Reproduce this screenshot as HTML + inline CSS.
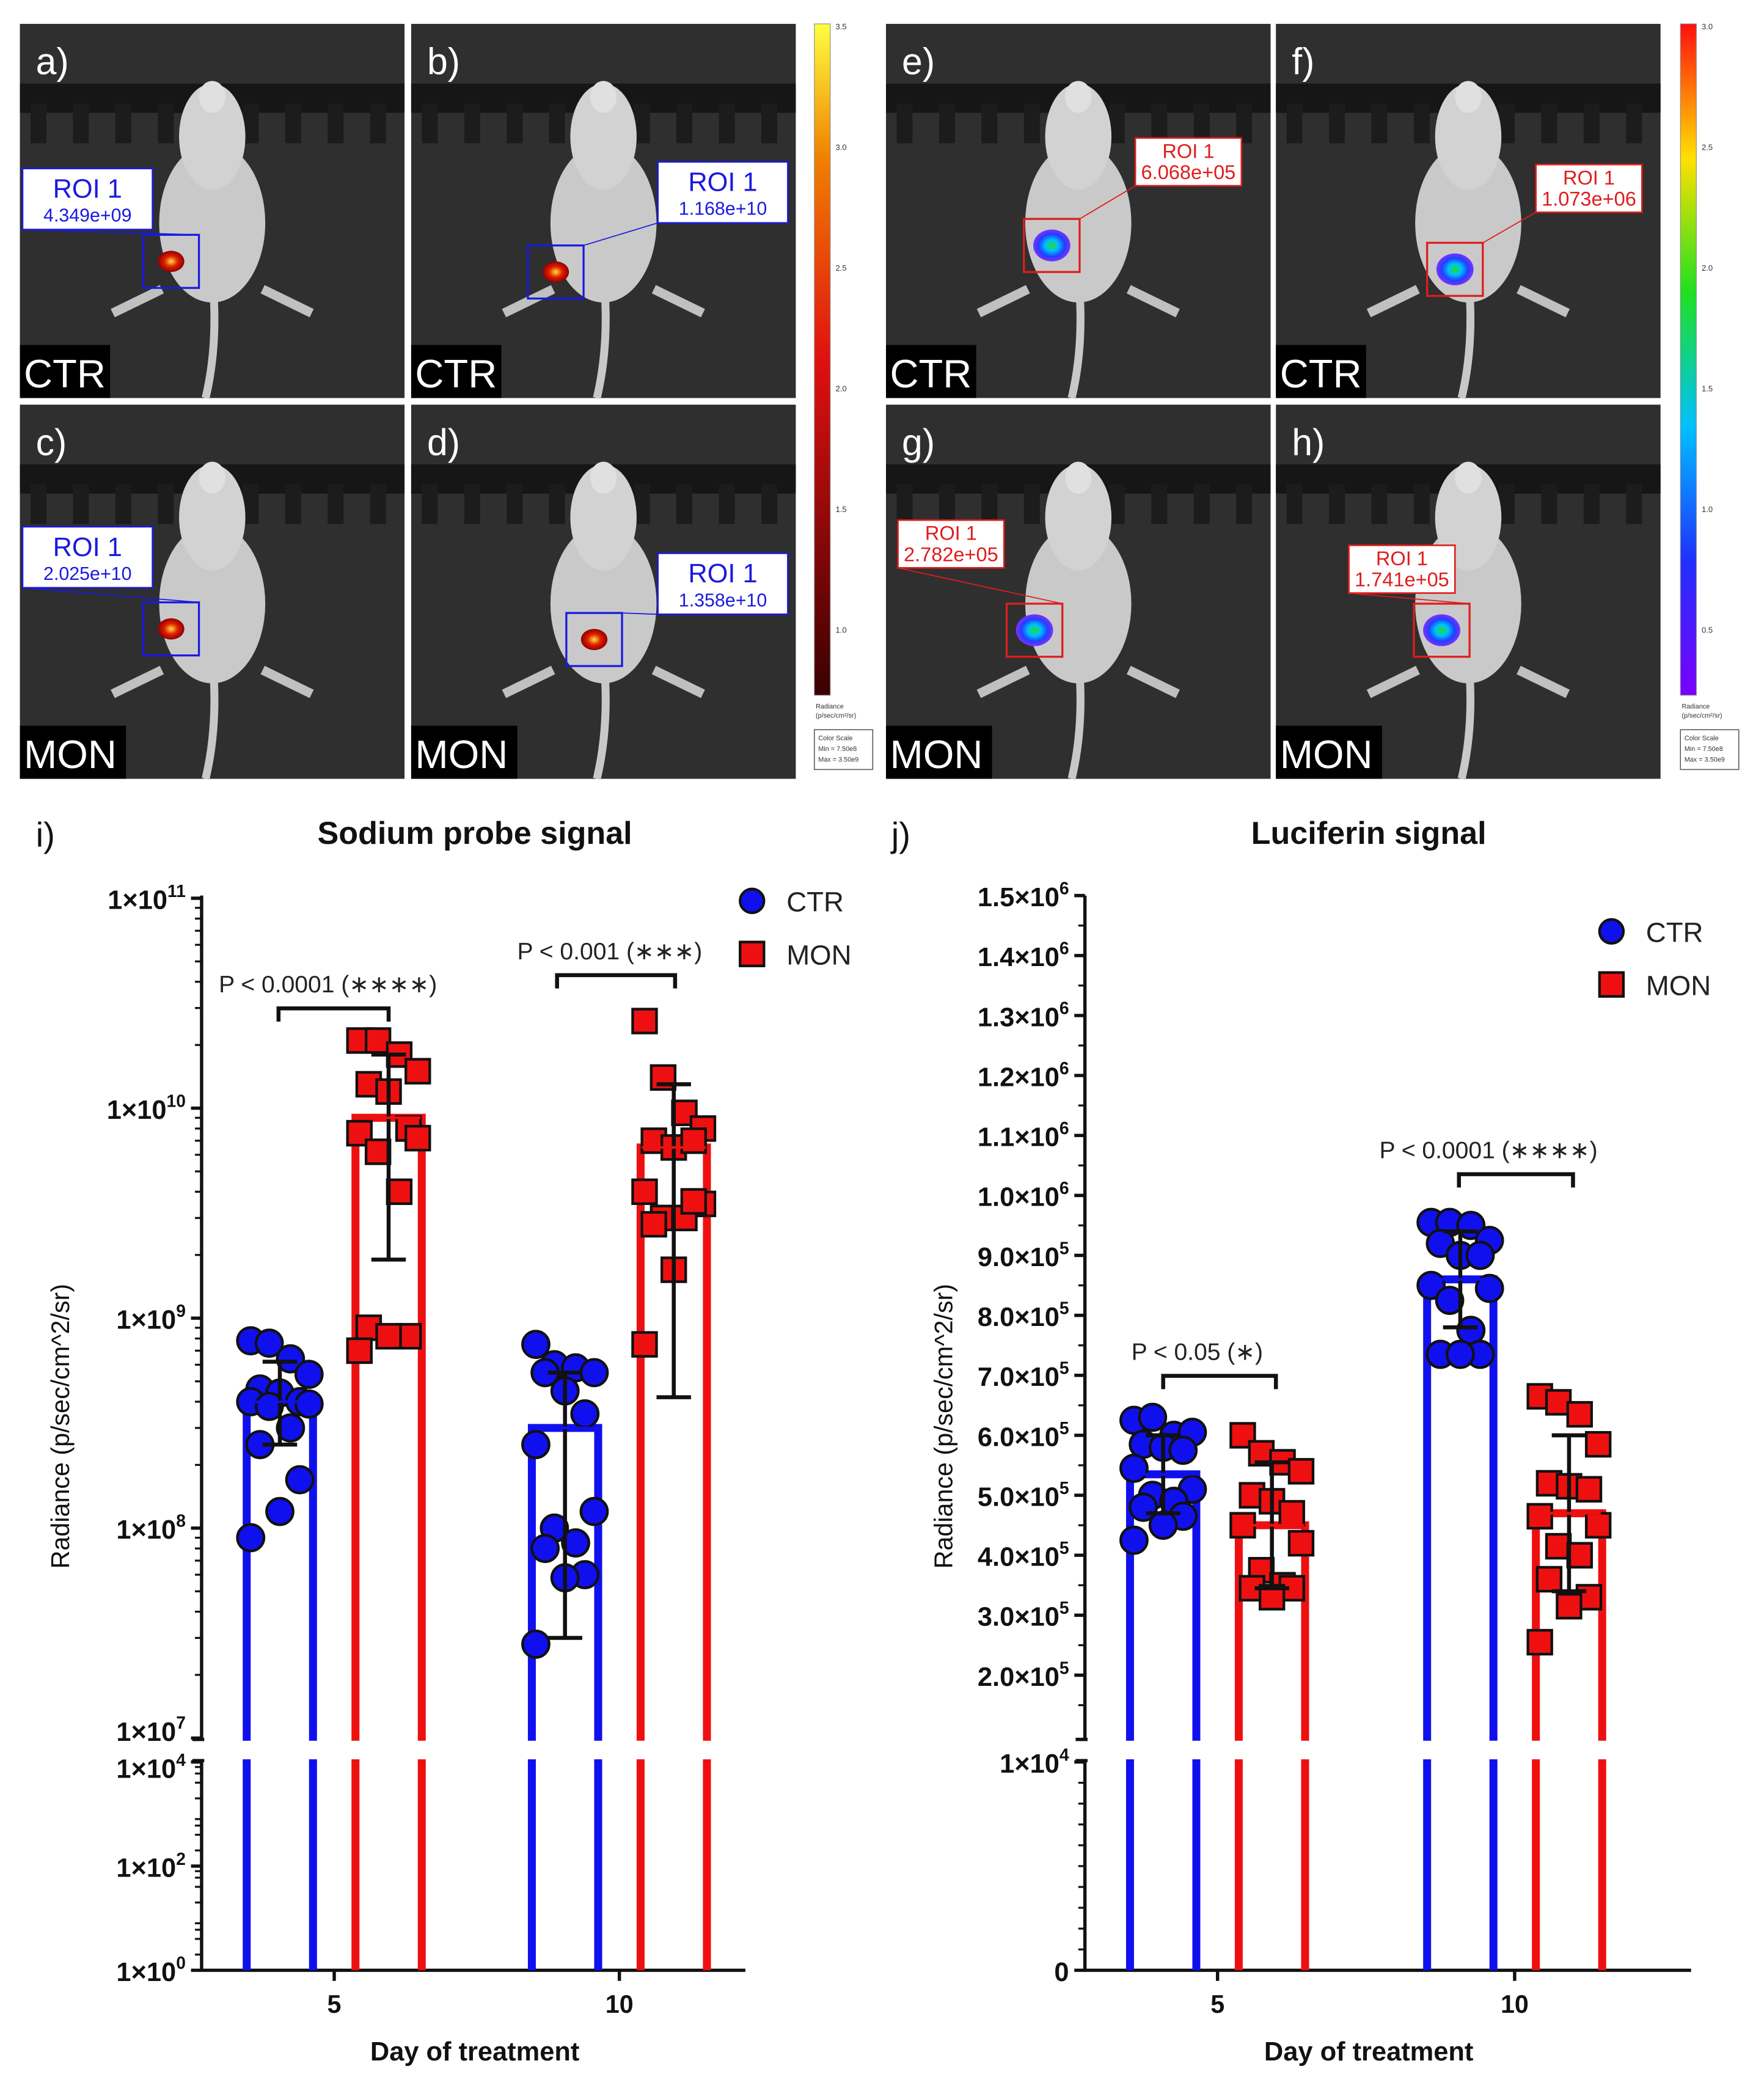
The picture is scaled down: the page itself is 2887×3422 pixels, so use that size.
<!DOCTYPE html>
<html><head><meta charset="utf-8"><style>
html,body{margin:0;padding:0;background:#fff}
svg{display:block}
text{font-family:"Liberation Sans",Arial,sans-serif}
</style></head><body>
<svg id="fig" width="2887" height="3422" viewBox="0 0 1330 1576" preserveAspectRatio="none" xmlns="http://www.w3.org/2000/svg">
<defs>
<linearGradient id="cb1" x1="0" y1="1" x2="0" y2="0"><stop offset="0" stop-color="#3a0000"/><stop offset="0.5" stop-color="#e01010"/><stop offset="0.8" stop-color="#f08000"/><stop offset="1" stop-color="#ffff40"/></linearGradient>
<linearGradient id="cb2" x1="0" y1="1" x2="0" y2="0"><stop offset="0" stop-color="#7a00ff"/><stop offset="0.2" stop-color="#2030ff"/><stop offset="0.4" stop-color="#00c0ff"/><stop offset="0.6" stop-color="#20e020"/><stop offset="0.8" stop-color="#ffe000"/><stop offset="1" stop-color="#ff1010"/></linearGradient>
<radialGradient id="lum1"><stop offset="0" stop-color="#ffe040"/><stop offset="0.5" stop-color="#e02000"/><stop offset="1" stop-color="#900000"/></radialGradient>
<radialGradient id="lum2"><stop offset="0" stop-color="#20e020"/><stop offset="0.35" stop-color="#00c0ff"/><stop offset="0.7" stop-color="#2040ff"/><stop offset="1" stop-color="#8030ff"/></radialGradient>
</defs>
<g id="panels"></g>
<g id="chartI"></g>
<g id="chartJ"></g>
</svg>
<script>
// ---------- data: chart i (sodium probe, log scale) ----------
const daysI = ["5", "10"];
const ctrMeanI = [4.0e8, 3.0e8];
const monMeanI = [9.0e9, 6.5e9];
const ctrErrLowI = [2.5e8, 3.0e7];
const ctrErrHighI = [6.2e8, 5.5e8];
const monErrLowI = [1.9e9, 4.2e8];
const monErrHighI = [1.8e10, 1.3e10];
const ctrPtsI5 = [7.8e8, 7.6e8, 6.4e8, 5.4e8, 4.6e8, 4.4e8, 4.0e8, 4.0e8, 3.9e8, 3.8e8, 3.0e8, 2.5e8, 1.7e8, 1.2e8, 9.0e7];
const monPtsI5 = [2.1e10, 2.1e10, 1.8e10, 1.5e10, 1.3e10, 1.2e10, 8.0e9, 7.6e9, 7.2e9, 6.2e9, 4.0e9, 9.0e8, 8.2e8, 8.2e8, 7.0e8];
const ctrPtsI10 = [7.5e8, 6.0e8, 5.8e8, 5.5e8, 5.5e8, 4.5e8, 3.5e8, 2.5e8, 1.2e8, 1.0e8, 8.5e7, 8.0e7, 6.0e7, 5.8e7, 2.8e7];
const monPtsI10 = [2.6e10, 1.4e10, 9.5e9, 8.0e9, 7.0e9, 6.5e9, 7.0e9, 4.0e9, 3.5e9, 3.0e9, 3.0e9, 2.8e9, 3.6e9, 1.7e9, 7.5e8];
const tickLabelsIUpper = ["1×10", "1×10", "1×10", "1×10", "1×10"];
const tickExpIUpper = [11, 10, 9, 8, 7];
const tickExpILower = [4, 2, 0];
// ---------- data: chart j (luciferin, linear) ----------
const daysJ = ["5", "10"];
const ctrMeanJ = [5.35e5, 8.6e5];
const monMeanJ = [4.5e5, 4.7e5];
const ctrErrJ = [0.65e5, 0.8e5];
const monErrJ = [1.05e5, 1.3e5];
const ctrPtsJ5 = [6.25e5, 6.3e5, 6.0e5, 6.05e5, 5.85e5, 5.8e5, 5.75e5, 5.45e5, 5.1e5, 5.0e5, 4.9e5, 4.8e5, 4.65e5, 4.5e5, 4.25e5];
const monPtsJ5 = [6.0e5, 5.7e5, 5.55e5, 5.4e5, 5.0e5, 4.9e5, 4.7e5, 4.5e5, 4.2e5, 3.75e5, 3.5e5, 3.45e5, 3.45e5, 3.3e5];
const ctrPtsJ10 = [9.55e5, 9.55e5, 9.5e5, 9.25e5, 9.2e5, 9.0e5, 9.0e5, 8.5e5, 8.45e5, 8.25e5, 7.75e5, 7.35e5, 7.35e5, 7.35e5];
const monPtsJ10 = [6.65e5, 6.55e5, 6.35e5, 5.85e5, 5.2e5, 5.15e5, 5.1e5, 4.65e5, 4.5e5, 4.15e5, 4.0e5, 3.6e5, 3.3e5, 3.15e5, 2.55e5];
const tickValsJ = [1.5e6,1.4e6,1.3e6,1.2e6,1.1e6,1.0e6,9e5,8e5,7e5,6e5,5e5,4e5,3e5,2e5];
const tickLabelsJ = ["1.5×10","1.4×10","1.3×10","1.2×10","1.1×10","1.0×10","9.0×10","8.0×10","7.0×10","6.0×10","5.0×10","4.0×10","3.0×10","2.0×10"];
const tickExpJ = [6,6,6,6,6,6,5,5,5,5,5,5,5,5];

const NS = "http://www.w3.org/2000/svg";
function mk(parent, tag, attrs, text) {
  const e = document.createElementNS(NS, tag);
  for (const k in attrs) e.setAttribute(k, attrs[k]);
  if (text !== undefined) e.textContent = text;
  parent.appendChild(e);
  return e;
}
const jit = [-22,-8,8,22,-15,0,15,-22,22,-8,8,-15,15,0,-22,22];

// ---------- image panels ----------
const P = document.getElementById('panels');
const panels = [
  {id:"a",x:15,y:18,grp:"CTR",roi:"4.349e+09",rx:17,ry:127,bx:108,by:177,bw:42,bh:40,c:"b"},
  {id:"b",x:310,y:18,grp:"CTR",roi:"1.168e+10",rx:496,ry:122,bx:398,by:185,bw:42,bh:40,c:"b"},
  {id:"c",x:15,y:305,grp:"MON",roi:"2.025e+10",rx:17,ry:397,bx:108,by:454,bw:42,bh:40,c:"b"},
  {id:"d",x:310,y:305,grp:"MON",roi:"1.358e+10",rx:496,ry:417,bx:427,by:462,bw:42,bh:40,c:"b"},
  {id:"e",x:668,y:18,grp:"CTR",roi:"6.068e+05",rx:856,ry:104,bx:772,by:165,bw:42,bh:40,c:"r"},
  {id:"f",x:962,y:18,grp:"CTR",roi:"1.073e+06",rx:1158,ry:124,bx:1076,by:183,bw:42,bh:40,c:"r"},
  {id:"g",x:668,y:305,grp:"MON",roi:"2.782e+05",rx:677,ry:392,bx:759,by:455,bw:42,bh:40,c:"r"},
  {id:"h",x:962,y:305,grp:"MON",roi:"1.741e+05",rx:1017,ry:411,bx:1066,by:455,bw:42,bh:40,c:"r"}
];
panels.forEach(p => {
  const w = 290, h = 282;
  const g = mk(P, 'g', {});
  
  
  mk(g, 'rect', {x:p.x, y:p.y, width:w, height:h, fill:"#2f2f2f"});
  mk(g, 'rect', {x:p.x, y:p.y+45, width:w, height:22, fill:"#161616"});
  for (let i = 0; i < 9; i++) mk(g, 'rect', {x:p.x+8+i*32, y:p.y+60, width:12, height:30, fill:"#1c1c1c"});
  const cx = p.x + 145, cy = p.y;
  mk(g, 'path', {d:`M${cx} ${cy+190} Q${cx+5} ${cy+240} ${cx-5} ${cy+282}`, stroke:"#c8c8c8", "stroke-width":6, fill:"none"});
  mk(g, 'ellipse', {cx:cx, cy:cy+150, rx:40, ry:60, fill:"#c9c9c9"});
  mk(g, 'ellipse', {cx:cx, cy:cy+85, rx:25, ry:40, fill:"#d2d2d2"});
  mk(g, 'ellipse', {cx:cx, cy:cy+55, rx:10, ry:12, fill:"#e0e0e0"});
  mk(g, 'path', {d:`M${cx-38} ${cy+200} L${cx-75} ${cy+218} M${cx+38} ${cy+200} L${cx+75} ${cy+218}`, stroke:"#c0c0c0", "stroke-width":7, fill:"none"});
  const col = p.c === "b" ? "#1a1ae0" : "#e01c1c";
  mk(g, 'ellipse', {cx:p.bx+p.bw/2, cy:p.by+p.bh/2, rx:p.c==="b"?10:14, ry:p.c==="b"?8:12, fill:p.c==="b"?"url(#lum1)":"url(#lum2)"});
  const box = mk(g, 'rect', {x:p.bx, y:p.by, width:p.bw, height:p.bh, fill:"none", stroke:col, "stroke-width":1.5});
  
  
  const lw = p.c === "b" ? 98 : 80, lh = p.c === "b" ? 46 : 36;
  mk(g, 'line', {x1:p.bx+p.bw, y1:p.by, x2:p.rx, y2:p.ry+lh, stroke:col, "stroke-width":0.8});
  const lab = mk(g, 'g', {});
  
  
  mk(lab, 'rect', {x:p.rx, y:p.ry, width:lw, height:lh, fill:"#fff", stroke:col, "stroke-width":1.2});
  mk(lab, 'text', {x:p.rx+lw/2, y:p.ry+(p.c==="b"?22:15), "text-anchor":"middle", "font-size":p.c==="b"?20:15, fill:col}, "ROI 1");
  mk(lab, 'text', {x:p.rx+lw/2, y:p.ry+(p.c==="b"?40:31), "text-anchor":"middle", "font-size":p.c==="b"?14:15, fill:col}, p.roi);
  const t = mk(g, 'text', {x:p.x+12, y:p.y+38, "font-size":28, fill:"#fff"}, p.id + ")");
  
  
  const gw = p.grp === "CTR" ? 68 : 80;
  mk(g, 'rect', {x:p.x, y:p.y+h-40, width:gw, height:40, fill:"#000"});
  const gt = mk(g, 'text', {x:p.x+3, y:p.y+h-8, "font-size":30, fill:"#fff"}, p.grp);
  
  
});
[[614,"url(#cb1)",["3.5","3.0","2.5","2.0","1.5","1.0"]],[1267,"url(#cb2)",["3.0","2.5","2.0","1.5","1.0","0.5"]]].forEach((c,ci)=>{
  const g = mk(P, 'g', {});
  
  
  mk(g, 'rect', {x:c[0], y:18, width:12, height:506, fill:c[1], stroke:"#888", "stroke-width":0.5});
  c[2].forEach((l,i)=>mk(g,'text',{x:c[0]+16,y:22+i*91,"font-size":6,fill:"#333"},l));
  mk(g, 'text', {x:c[0]+1, y:534, "font-size":5, fill:"#333"}, "Radiance");
  mk(g, 'text', {x:c[0]+1, y:541, "font-size":5, fill:"#333"}, "(p/sec/cm²/sr)");
  mk(g, 'rect', {x:c[0], y:550, width:44, height:30, fill:"#fff", stroke:"#555", "stroke-width":0.7});
  mk(g, 'text', {x:c[0]+3, y:558, "font-size":5, fill:"#333"}, "Color Scale");
  mk(g, 'text', {x:c[0]+3, y:566, "font-size":5, fill:"#333"}, "Min = 7.50e8");
  mk(g, 'text', {x:c[0]+3, y:574, "font-size":5, fill:"#333"}, "Max = 3.50e9");
});

// ---------- chart helpers ----------
function drawChart(G, cfg) {
  const ax = cfg.ax;
  // title & letter
  mk(G, 'text', {x:cfg.letterX, y:638, "font-size":26, fill:"#111"}, cfg.letter);
  const tt = mk(G, 'text', {x:cfg.titleX, y:636, "font-size":24, "font-weight":"bold", "text-anchor":"middle", fill:"#111"}, cfg.title);
  
  
  // y axis label
  const yl = mk(G, 'text', {transform:`translate(${ax-100},1075) rotate(-90)`, "font-size":19, "text-anchor":"middle", fill:"#111"}, "Radiance (p/sec/cm^2/sr)");
  
  
  const xl = mk(G, 'text', {x:cfg.titleX, y:1553, "font-size":20, "font-weight":"bold", "text-anchor":"middle", fill:"#111"}, "Day of treatment");
  
  
  // axis lines
  mk(G, 'line', {x1:ax, y1:675, x2:ax, y2:1311, stroke:"#111", "stroke-width":2.5});
  mk(G, 'line', {x1:ax, y1:1327, x2:ax, y2:1486, stroke:"#111", "stroke-width":2.5});
  mk(G, 'line', {x1:ax-1, y1:1485, x2:cfg.axEnd, y2:1485, stroke:"#111", "stroke-width":2.5});
  mk(G, 'line', {x1:ax-7, y1:1311, x2:ax+2, y2:1311, stroke:"#111", "stroke-width":2.5});
  mk(G, 'line', {x1:ax-7, y1:1327, x2:ax+2, y2:1327, stroke:"#111", "stroke-width":2.5});
  cfg.drawTicks(G);
  // x ticks
  cfg.days.forEach((d,i)=>{
    mk(G, 'line', {x1:cfg.xc[i], y1:1485, x2:cfg.xc[i], y2:1493, stroke:"#111", "stroke-width":2.5});
    const t = mk(G, 'text', {x:cfg.xc[i], y:1517, "font-size":19, "font-weight":"bold", "text-anchor":"middle", fill:"#111"}, d);
    
    
  });
  // bars
  const groups = [["ctr","#1010ee",cfg.ctrMean,-cfg.off],["mon","#ee1010",cfg.monMean,cfg.off]];
  groups.forEach(([nm,col,means,off])=>{
    means.forEach((m,i)=>{
      const cx = cfg.xc[i] + off, bw = 50, top = cfg.y(m);
      const b = mk(G, 'path', {d:`M${cx-bw/2} 1485 V${top} H${cx+bw/2} V1485`, fill:"none", stroke:col, "stroke-width":6});
      
      
      // break gap
      mk(G, 'rect', {x:cx-bw/2-6, y:1312, width:bw+12, height:14, fill:"#fff"});
    });
  });
  // points
  const pts = [[cfg.ctrPts,"ctr","#1010ee",-cfg.off,"c"],[cfg.monPts,"mon","#ee1010",cfg.off,"s"]];
  pts.forEach(([arrs,nm,col,off,shape])=>{
    arrs.forEach((arr,i)=>{
      arr.forEach((v,k)=>{
        const px = cfg.xc[i] + off + jit[k % jit.length], py = cfg.y(v);
        let e;
        if (shape === "c") e = mk(G, 'circle', {cx:px, cy:py, r:10, fill:col, stroke:"#111", "stroke-width":2});
        else e = mk(G, 'rect', {x:px-9, y:py-9, width:18, height:18, fill:col, stroke:"#111", "stroke-width":2});
        
        
      });
    });
  });
  // error bars
  [[cfg.ctrLo,cfg.ctrHi,cfg.ctrMean,-cfg.off,"ctr"],[cfg.monLo,cfg.monHi,cfg.monMean,cfg.off,"mon"]].forEach(([lo,hi,mean,off,nm])=>{
    mean.forEach((m,i)=>{
      const cx = cfg.xc[i] + off;
      const g = mk(G, 'g', {stroke:"#111", "stroke-width":3});
      
      
      mk(g, 'line', {x1:cx, y1:cfg.y(lo[i]), x2:cx, y2:cfg.y(hi[i])});
      mk(g, 'line', {x1:cx-13, y1:cfg.y(lo[i]), x2:cx+13, y2:cfg.y(lo[i])});
      mk(g, 'line', {x1:cx-13, y1:cfg.y(hi[i]), x2:cx+13, y2:cfg.y(hi[i])});
      mk(g, 'line', {x1:cx-24, y1:cfg.y(m), x2:cx+24, y2:cfg.y(m), "stroke-width":2, stroke:nm==="ctr"?"#1010ee":"#ee1010"});
    });
  });
  // significance brackets
  cfg.sig.forEach(s=>{
    const g = mk(G, 'g', {});
    
    
    mk(g, 'path', {d:`M${s.x1} ${s.y+10} V${s.y} H${s.x2} V${s.y+10}`, fill:"none", stroke:"#111", "stroke-width":3});
    mk(g, 'text', {x:s.tx, y:s.y-12, "font-size":18, fill:"#222"}, s.t);
  });
  // legend
  const lg = mk(G, 'g', {});
  
  
  mk(lg, 'circle', {cx:cfg.legX, cy:cfg.legY, r:9, fill:"#1010ee", stroke:"#111", "stroke-width":2});
  mk(lg, 'text', {x:cfg.legX+26, y:cfg.legY+8, "font-size":21, fill:"#222"}, "CTR");
  mk(lg, 'rect', {x:cfg.legX-9, y:cfg.legY+31, width:18, height:18, fill:"#ee1010", stroke:"#111", "stroke-width":2});
  mk(lg, 'text', {x:cfg.legX+26, y:cfg.legY+48, "font-size":21, fill:"#222"}, "MON");
}

// ---------- chart i ----------
const yI = v => 677 + (11 - Math.log10(v)) * 158.25;
drawChart(document.getElementById('chartI'), {
  letter:"i)", letterX:27, title:"Sodium probe signal", titleX:358, ax:152, axEnd:562,
  days:daysI, xc:[252,467], off:41, y:yI,
  ctrMean:ctrMeanI, monMean:monMeanI, ctrLo:ctrErrLowI, ctrHi:ctrErrHighI, monLo:monErrLowI, monHi:monErrHighI,
  ctrPts:[ctrPtsI5, ctrPtsI10], monPts:[monPtsI5, monPtsI10],
  sig:[{x1:210,x2:293,y:760,tx:165,t:"P < 0.0001  (∗∗∗∗)"},{x1:420,x2:509,y:735,tx:390,t:"P < 0.001  (∗∗∗)"}],
  legX:567, legY:679,
  drawTicks:G=>{
    tickExpIUpper.forEach((e,i)=>{
      const y = yI(Math.pow(10,e));
      mk(G,'line',{x1:144,y1:y,x2:152,y2:y,stroke:"#111","stroke-width":2.5});
      if (e > 7) for (let m=2;m<10;m++){const yy=yI(m*Math.pow(10,e-1)); mk(G,'line',{x1:147,y1:yy,x2:152,y2:yy,stroke:"#111","stroke-width":1.5});}
      const t = mk(G,'text',{x:140,y:y+(e===7?2:8),"font-size":20,"font-weight":"bold","text-anchor":"end",fill:"#111"});
      
      
      t.textContent = tickLabelsIUpper[i];
      const s = mk(t,'tspan',{dy:-9,"font-size":13}); s.textContent = String(e);
    });
    const yL = e => 1485 - e * 39.25;
    for (let e=0;e<4;e++) for (let m=2;m<10;m+=2){const yy=yL(e+Math.log10(m)); mk(G,'line',{x1:147,y1:yy,x2:152,y2:yy,stroke:"#111","stroke-width":1.5});}
    tickExpILower.forEach(e=>{
      const y = yL(e);
      mk(G,'line',{x1:144,y1:y,x2:152,y2:y,stroke:"#111","stroke-width":2.5});
      const t = mk(G,'text',{x:140,y:y+(e===4?12:8),"font-size":20,"font-weight":"bold","text-anchor":"end",fill:"#111"});
      
      
      t.textContent = "1×10";
      const s = mk(t,'tspan',{dy:-9,"font-size":13}); s.textContent = String(e);
    });
  }
});

// ---------- chart j ----------
const yJ = v => 675 + (1.5e6 - v) / 1e5 * 45.2;
drawChart(document.getElementById('chartJ'), {
  letter:"j)", letterX:672, title:"Luciferin signal", titleX:1032, ax:818, axEnd:1275,
  days:daysJ, xc:[918,1142], off:41, y:yJ,
  ctrMean:ctrMeanJ, monMean:monMeanJ,
  ctrLo:ctrMeanJ.map((m,i)=>m-ctrErrJ[i]), ctrHi:ctrMeanJ.map((m,i)=>m+ctrErrJ[i]),
  monLo:monMeanJ.map((m,i)=>m-monErrJ[i]), monHi:monMeanJ.map((m,i)=>m+monErrJ[i]),
  ctrPts:[ctrPtsJ5, ctrPtsJ10], monPts:[monPtsJ5, monPtsJ10],
  sig:[{x1:877,x2:962,y:1037,tx:853,t:"P < 0.05  (∗)"},{x1:1100,x2:1186,y:885,tx:1040,t:"P < 0.0001  (∗∗∗∗)"}],
  legX:1215, legY:702,
  drawTicks:G=>{
    for (let k=0;k<28;k++){const yy=675+k*22.6; if(yy<1311) mk(G,'line',{x1:813,y1:yy,x2:818,y2:yy,stroke:"#111","stroke-width":1.5});}
    tickValsJ.forEach((v,i)=>{
      const y = yJ(v);
      mk(G,'line',{x1:810,y1:y,x2:818,y2:y,stroke:"#111","stroke-width":2.5});
      const t = mk(G,'text',{x:806,y:y+8,"font-size":20,"font-weight":"bold","text-anchor":"end",fill:"#111"});
      
      
      t.textContent = tickLabelsJ[i];
      const s = mk(t,'tspan',{dy:-9,"font-size":13}); s.textContent = String(tickExpJ[i]);
    });
    for (let k=0;k<10;k++){const yy=1328+k*15.7; mk(G,'line',{x1:813,y1:yy,x2:818,y2:yy,stroke:"#111","stroke-width":1.5});}
    [["1×10","4",1328],["0","",1485]].forEach(([l,e,y])=>{
      mk(G,'line',{x1:810,y1:y,x2:818,y2:y,stroke:"#111","stroke-width":2.5});
      const t = mk(G,'text',{x:806,y:y+8,"font-size":20,"font-weight":"bold","text-anchor":"end",fill:"#111"});
      
      
      t.textContent = l;
      if (e) { const s = mk(t,'tspan',{dy:-9,"font-size":13}); s.textContent = e; }
    });
  }
});
</script>
</body></html>
